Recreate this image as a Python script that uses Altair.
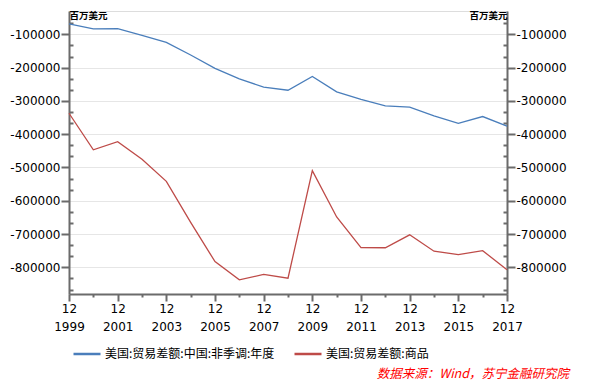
import altair as alt
import pandas as pd

years = list(range(1999, 2018))
china_balance = [-68677, -83833, -83096, -103065, -124068, -162254, -202278, -234101,
                 -258506, -268040, -226877, -273042, -295250, -315102, -318684, -344818,
                 -367328, -346997, -375576]
goods_balance = [-337068, -446783, -422370, -475245, -541643, -664766, -782804, -837289,
                 -821196, -832492, -509694, -648671, -740999, -741119, -702244, -751531,
                 -761868, -749801, -807495]
series_names = ["美国:贸易差额:中国:非季调:年度", "美国:贸易差额:商品"]
series_colors = ["#4A7EBB", "#BE4B48"]
major_ticks = [-100000, -200000, -300000, -400000, -500000, -600000, -700000, -800000]
minor_ticks = [-66666.67, -133333.33, -166666.67, -233333.33, -266666.67, -333333.33,
               -366666.67, -433333.33, -466666.67, -533333.33, -566666.67, -633333.33,
               -666666.67, -733333.33, -766666.67, -833333.33, -866666.67]
y_domain = [-880000, -30000]
unit_label = "百万美元"
source_text = ["数据来源：Wind，苏宁金融研究院"]

df = pd.concat([
    pd.DataFrame({"year": years, "value": china_balance, "series": series_names[0]}),
    pd.DataFrame({"year": years, "value": goods_balance, "series": series_names[1]}),
])

axis_color = "#6B6B6B"
num_font = "DejaVu Sans"
cjk_font = "Noto Sans CJK SC"
y_ticks = sorted(major_ticks + minor_ticks)

x_enc = alt.X(
    "year:Q",
    scale=alt.Scale(domain=[years[0], years[-1]], nice=False, zero=False),
    axis=alt.Axis(
        title=None,
        values=years,
        grid=False,
        labelExpr="datum.value % 2 == 1 ? ['12', '' + datum.value] : ''",
        tickSize=alt.ExprRef("datum.value % 2 == 1 ? 7 : 3"),
        labelPadding=2,
        labelLineHeight=18.5,
        labelFont=num_font,
        labelFontSize=12,
        labelColor="#000000",
        labelBaseline="top",
        labelFlush=False,
        labelOverlap=False,
        domainColor=axis_color,
        domainWidth=2,
        tickColor=axis_color,
        tickWidth=2,
    ),
)

y_scale = alt.Scale(domain=y_domain, nice=False, zero=False)


def y_axis(orient, align):
    return alt.Axis(
        orient=orient,
        title=unit_label,
        titleAngle=0,
        titleX=0,
        titleY=4,
        titleAlign=align,
        titleBaseline="middle",
        titleFont=cjk_font,
        titleFontSize=9.5,
        titleFontWeight="bold",
        titleColor="#000000",
        values=y_ticks,
        labelExpr="abs(datum.value % 100000) < 1 ? '-' + abs(datum.value) : ''",
        tickSize=alt.ExprRef("abs(datum.value % 100000) < 1 ? 8 : -4"),
        labelPadding=1,
        labelFont=num_font,
        labelFontSize=12,
        labelColor="#000000",
        labelOverlap=False,
        labelFlush=False,
        grid=(orient == "left"),
        gridColor="#E6E6E6",
        gridWidth=1,
        gridOpacity=alt.ExprRef("abs(datum.value % 100000) < 1 ? 1 : 0"),
        domainColor=axis_color,
        domainWidth=2,
        tickColor=axis_color,
        tickWidth=2,
    )


lines = alt.Chart(df).mark_line(strokeWidth=1.3).encode(
    x=x_enc,
    y=alt.Y("value:Q", scale=y_scale, axis=y_axis("left", "left")),
    color=alt.Color(
        "series:N",
        scale=alt.Scale(domain=series_names, range=series_colors),
        sort=series_names,
        legend=alt.Legend(
            orient="none",
            legendX=3,
            legendY=328,
            direction="horizontal",
            title=None,
            symbolType="stroke",
            symbolSize=729,
            symbolStrokeWidth=2.5,
            labelFont=cjk_font,
            labelFontSize=12,
            labelColor="#000000",
            labelLimit=0,
            labelOffset=3,
            columnPadding=14,
            padding=0,
        ),
    ),
)

right = alt.Chart(df).mark_line(opacity=0).encode(
    x=x_enc,
    y=alt.Y("value:Q", scale=y_scale, axis=y_axis("right", "right")),
    detail="series:N",
)

source = alt.Chart(pd.DataFrame({"t": source_text})).mark_text(
    align="right",
    baseline="middle",
    font=cjk_font,
    fontSize=12.5,
    fontStyle="italic",
    color="#FF0000",
).encode(text="t:N", x=alt.value(500), y=alt.value(362.5))

chart = alt.layer(lines, right, source).resolve_scale(y="independent").properties(
    width=438,
    height=283,
    autosize=alt.AutoSizeParams(type="none"),
    padding={"left": 61, "top": 3, "right": 78, "bottom": 86},
).configure_view(stroke=None).configure(background="#FFFFFF")

chart.save("out.html", embed_options={"renderer": "svg", "actions": False})
